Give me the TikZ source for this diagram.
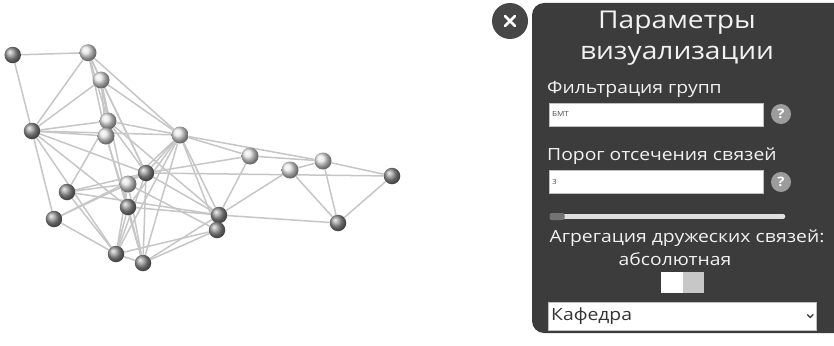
\documentclass[tikz,border=0pt]{standalone}
\usepackage{fontspec}
\setmainfont{Open Sans}[FakeStretch=1.15]
\usetikzlibrary{backgrounds}
\definecolor{panelgray}{HTML}{3C3C3C}
\definecolor{closegray}{HTML}{474747}
\definecolor{edgegray}{HTML}{C6C6C6}
\definecolor{helpgray}{HTML}{9C9C9C}
\definecolor{labelwhite}{HTML}{F2F2F2}
\begin{document}
\begin{tikzpicture}[x=1pt,y=-1pt,
  dnode/.style={circle,minimum size=16.5pt,inner sep=0pt,shading=ball,ball color=black!42},
  lnode/.style={circle,minimum size=17pt,inner sep=0pt,shading=ball,ball color=black!10},
  link/.style={draw=edgegray,line width=1.5pt},
  panelbox/.style={fill=panelgray,rounded corners=12pt,minimum width=330pt,minimum height=330pt,inner sep=0pt},
  lbl/.style={text=labelwhite,inner sep=0pt,font=\fontsize{16.8}{18}\selectfont},
  ttl/.style={text=labelwhite,inner sep=0pt,font=\fontsize{24.5}{28}\selectfont},
  field/.style={fill=white,draw=black!25,line width=0.5pt,inner sep=0pt},
  helpdot/.style={circle,fill=helpgray,minimum size=20pt,inner sep=0pt,text=white,font=\bfseries\fontsize{13}{13}\selectfont},
]
\useasboundingbox (0,0) rectangle (834,345);

% ---- network ----
\node[dnode] (A) at (12.7,55) {};
\node[lnode] (B) at (88,52.7) {};
\node[lnode] (C) at (101,80) {};
\node[dnode] (D) at (32,131) {};
\node[lnode] (E) at (108,121) {};
\node[lnode] (F) at (106,136) {};
\node[lnode] (G) at (180,135) {};
\node[dnode] (H) at (146,173) {};
\node[lnode] (I) at (128,184) {};
\node[dnode] (J) at (67,192) {};
\node[dnode] (K) at (128,207) {};
\node[dnode] (L) at (54,219) {};
\node[dnode] (M) at (116,254) {};
\node[dnode] (N) at (143,263) {};
\node[dnode] (O) at (219,215) {};
\node[dnode] (P) at (217,230) {};
\node[lnode] (Q) at (250,156) {};
\node[lnode] (R) at (290,170) {};
\node[lnode] (S) at (323,161) {};
\node[dnode] (T) at (392,176) {};
\node[dnode] (U) at (338,223) {};

\begin{scope}[on background layer]
\foreach \a/\b in {A/B,A/D,B/D,B/C,B/E,B/F,B/G,B/H,C/D,C/G,C/E,C/F,C/H,C/K,
  D/E,D/F,D/G,D/H,D/K,D/L,D/M,E/G,E/J,E/H,E/O,F/K,F/N,
  G/Q,G/H,G/I,G/K,G/M,G/N,G/O,G/P,G/S,
  H/Q,H/T,H/J,H/L,H/M,H/N,H/O,I/J,I/L,I/M,I/N,I/P,
  J/O,J/M,K/M,K/N,K/O,L/M,M/N,M/P,N/O,N/P,
  O/Q,O/R,O/U,Q/S,R/S,R/U,S/U,S/T,T/U}
  \draw[link] (\a) -- (\b);
\end{scope}

% ---- settings panel ----
\begin{scope}
\clip (0,0) rectangle (834,345);
\node[panelbox] (panel) at (697,168) {};
\end{scope}
\node[circle,fill=closegray,minimum size=36pt,inner sep=0pt] (close) at (510,21) {};
\draw[white,line width=2.6pt,line cap=round] ([shift={(-5,-5)}]close.center) -- ([shift={(5,5)}]close.center)
  ([shift={(-5,5)}]close.center) -- ([shift={(5,-5)}]close.center);

\node[ttl] (title1) at (677,23) {Параметры};
\node[ttl] (title2) at (677,56) {визуализации};

\node[lbl,anchor=west] (flab) at (547,89) {Фильтрация групп};
\node[field,minimum width=214pt,minimum height=23pt] (fbox) at (656,114.5) {};
\node[anchor=west,inner sep=0pt,text=black!70,font=\fontsize{7}{7}\selectfont] (ftext) at (552,114.5) {БМТ};
\node[helpdot] (fhelp) at (781,114) {?};

\node[lbl,anchor=west] (plab) at (547,156) {Порог отсечения связей};
\node[field,minimum width=214pt,minimum height=23pt] (pbox) at (656,181.5) {};
\node[anchor=west,inner sep=0pt,text=black!70,font=\fontsize{7}{7}\selectfont] (ptext) at (552,181.5) {3};
\node[helpdot] (phelp) at (781,182) {?};

\coordinate (trackstart) at (556,216.5);
\coordinate (trackend) at (783,216.5);
\draw[black!12,line width=4.5pt,line cap=round] (trackstart) -- (trackend);
\node[fill=black!55,rounded corners=2pt,minimum width=15pt,minimum height=7pt,inner sep=0pt] (thumb) at (557,216.5) {};

\node[lbl] (alab) at (687,238) {Агрегация дружеских связей:};
\node[lbl] (amode) at (675,259) {абсолютная};
\node[fill=white,minimum width=22pt,minimum height=21pt,inner sep=0pt] (togon) at (672,282.5) {};
\node[fill=black!22,minimum width=21pt,minimum height=21pt,inner sep=0pt] (togoff) at (693.5,282.5) {};

\node[field,minimum width=268pt,minimum height=28pt] (dd) at (682,316) {};
\node[anchor=west,inner sep=0pt,text=black!80,font=\fontsize{16.8}{18}\selectfont] (ddtext) at (551,316) {Кафедра};
\draw[black!80,line width=1.2pt] ([shift={(-3,-1.5)}]dd.east) ++(-6,0) coordinate (chevA) -- ++(3,3) -- ++(3,-3);
\end{tikzpicture}
\end{document}
